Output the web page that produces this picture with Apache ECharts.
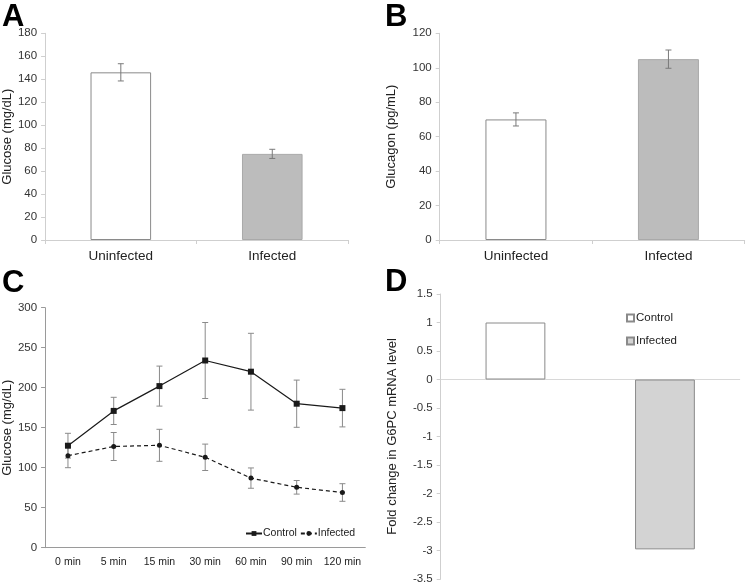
<!DOCTYPE html>
<html>
<head>
<meta charset="utf-8">
<script src="https://cdn.jsdelivr.net/npm/echarts@6/dist/echarts.min.js"></script>
<style>html,body{margin:0;padding:0;background:#fff;}#c{width:747px;height:585px;}</style>
</head>
<body>
<div id="c"></div>
<script>
// ---- data ----
const groupCats = ['Uninfected', 'Infected'];
const glucoseA = [146, 75];
const glucoseAErr = [7.5, 4];
const glucagonB = [70, 105];
const glucagonBErr = [3.8, 5.3];
const timeLabels = ['0 min', '5 min', '15 min', '30 min', '60 min', '90 min', '120 min'];
const controlC = [127.5, 171, 202, 234, 220, 180, 174.5];
const controlCErr = [15.5, 17, 25, 47.5, 48, 29.5, 23.5];
const infectedC = [115, 126.5, 128, 113, 87, 75.5, 69];
const infectedCErr = [15, 17.5, 20, 16.5, 12.7, 8.5, 11];
const foldCats = ['Control', 'Infected'];
const foldD = [1, -2.98];

const FONT = 'Liberation Sans, Arial, sans-serif';
const chart = echarts.init(document.getElementById('c'));

function errData(vals, errs) {
  return vals.map((v, i) => [i, v - errs[i], v + errs[i]]);
}
function errRender(capW, color) {
  return function (params, api) {
    const i = api.value(0);
    const lo = api.coord([i, api.value(1)]);
    const hi = api.coord([i, api.value(2)]);
    const st = { stroke: color, lineWidth: 1 };
    return {
      type: 'group',
      children: [
        { type: 'line', shape: { x1: lo[0], y1: lo[1], x2: hi[0], y2: hi[1] }, style: st },
        { type: 'line', shape: { x1: lo[0] - capW, y1: lo[1], x2: lo[0] + capW, y2: lo[1] }, style: st },
        { type: 'line', shape: { x1: hi[0] - capW, y1: hi[1], x2: hi[0] + capW, y2: hi[1] }, style: st }
      ]
    };
  };
}

const lightAxis = { show: true, lineStyle: { color: '#cfcfcf', width: 1 } };
const tickLabel = { fontFamily: FONT, fontSize: 11.5, color: '#333' };
const nameStyle = { fontFamily: FONT, fontSize: 13, color: '#222' };

function letter(txt, left, top) {
  return { text: txt, left: left, top: top, padding: 0,
    textStyle: { fontFamily: FONT, fontSize: 31, fontWeight: 'bold', color: '#000' } };
}

const option = {
  animation: false,
  backgroundColor: '#fff',
  title: [letter('A', 2, 2), letter('B', 385, 2), letter('C', 2, 268), letter('D', 385, 267)],
  grid: [
    { left: 44, top: 33.3, width: 304, height: 206.7 },
    { left: 439.7, top: 33.3, width: 305, height: 206.7 },
    { left: 43.3, top: 307.7, width: 322, height: 240 },
    { left: 440.7, top: 294, width: 299, height: 285.3 }
  ],
  legend: [
    { data: ['Control', 'Infected'], left: 240, top: 523, itemWidth: 16, itemHeight: 6, itemGap: 3,
      textStyle: { fontFamily: FONT, fontSize: 10.5, color: '#222', padding: [0, 0, 0, -4] } },
    { data: ['D-Control', 'D-Infected'], orient: 'vertical', left: 621, top: 307, itemWidth: 7, itemHeight: 7,
      itemGap: 11, icon: 'rect', formatter: n => n.replace('D-', ''),
      textStyle: { fontFamily: FONT, fontSize: 11.5, color: '#222', padding: [0, 0, 0, -3] } }
  ],
  xAxis: [
    { gridIndex: 0, type: 'category', data: groupCats, axisLine: lightAxis,
      axisTick: { show: true, length: 4, lineStyle: { color: '#cfcfcf' } },
      axisLabel: { fontFamily: FONT, fontSize: 13.5, color: '#222', margin: 9 } },
    { gridIndex: 1, type: 'category', data: groupCats, axisLine: lightAxis,
      axisTick: { show: true, length: 4, lineStyle: { color: '#cfcfcf' } },
      axisLabel: { fontFamily: FONT, fontSize: 13.5, color: '#222', margin: 9 } },
    { gridIndex: 2, type: 'category', data: timeLabels, axisLine: { show: true, lineStyle: { color: '#9a9a9a' } },
      axisTick: { show: false }, axisLabel: { interval: 0, fontFamily: FONT, fontSize: 10.5, color: '#222', margin: 9 } },
    { gridIndex: 3, type: 'category', data: foldCats, axisLine: { show: true, onZero: true, lineStyle: { color: '#d8d8d8' } },
      axisTick: { show: false }, axisLabel: { show: false } }
  ],
  yAxis: [
    { gridIndex: 0, type: 'value', min: 0, max: 180, interval: 20, axisLine: lightAxis,
      axisTick: { show: true, length: 4, lineStyle: { color: '#cfcfcf' } }, splitLine: { show: false },
      axisLabel: Object.assign({ margin: 8 }, tickLabel),
      name: 'Glucose (mg/dL)', nameLocation: 'middle', nameGap: 29, nameTextStyle: nameStyle },
    { gridIndex: 1, type: 'value', min: 0, max: 120, interval: 20, axisLine: lightAxis,
      axisTick: { show: true, length: 4, lineStyle: { color: '#cfcfcf' } }, splitLine: { show: false },
      axisLabel: Object.assign({ margin: 8 }, tickLabel),
      name: 'Glucagon (pg/mL)', nameLocation: 'middle', nameGap: 42, nameTextStyle: nameStyle },
    { gridIndex: 2, type: 'value', min: 0, max: 300, interval: 50, axisLine: { show: true, lineStyle: { color: '#9a9a9a' } },
      axisTick: { show: true, length: 4, lineStyle: { color: '#9a9a9a' } }, splitLine: { show: false },
      axisLabel: Object.assign({ margin: 8 }, tickLabel),
      name: 'Glucose (mg/dL)', nameLocation: 'middle', nameGap: 29, nameTextStyle: nameStyle },
    { gridIndex: 3, type: 'value', min: -3.5, max: 1.5, interval: 0.5, axisLine: lightAxis,
      axisTick: { show: true, length: 4, lineStyle: { color: '#cfcfcf' } }, splitLine: { show: false },
      axisLabel: Object.assign({ margin: 8 }, tickLabel),
      name: 'Fold change in G6PC mRNA level', nameLocation: 'middle', nameGap: 42, nameTextStyle: nameStyle }
  ],
  series: [
    { type: 'bar', xAxisIndex: 0, yAxisIndex: 0, barWidth: '40%',
      data: glucoseA.map((v, i) => ({ value: v, itemStyle: i === 0
        ? { color: '#fff', borderColor: '#8a8a8a', borderWidth: 1 }
        : { color: '#bcbcbc', borderColor: '#a9a9a9', borderWidth: 1 } })) },
    { type: 'custom', xAxisIndex: 0, yAxisIndex: 0, renderItem: errRender(3, '#7a7a7a'),
      data: errData(glucoseA, glucoseAErr), z: 3 },
    { type: 'bar', xAxisIndex: 1, yAxisIndex: 1, barWidth: '40%',
      data: glucagonB.map((v, i) => ({ value: v, itemStyle: i === 0
        ? { color: '#fff', borderColor: '#8a8a8a', borderWidth: 1 }
        : { color: '#bcbcbc', borderColor: '#a9a9a9', borderWidth: 1 } })) },
    { type: 'custom', xAxisIndex: 1, yAxisIndex: 1, renderItem: errRender(3, '#7a7a7a'),
      data: errData(glucagonB, glucagonBErr), z: 3 },
    { type: 'custom', xAxisIndex: 2, yAxisIndex: 2, renderItem: errRender(3, '#8a8a8a'),
      data: errData(controlC, controlCErr), z: 1 },
    { type: 'custom', xAxisIndex: 2, yAxisIndex: 2, renderItem: errRender(3, '#8a8a8a'),
      data: errData(infectedC, infectedCErr), z: 1 },
    { name: 'Control', type: 'line', xAxisIndex: 2, yAxisIndex: 2, data: controlC,
      symbol: 'rect', symbolSize: 6, lineStyle: { color: '#1a1a1a', width: 1.2 },
      itemStyle: { color: '#1a1a1a' }, z: 4 },
    { name: 'Infected', type: 'line', xAxisIndex: 2, yAxisIndex: 2, data: infectedC,
      symbol: 'circle', symbolSize: 5, lineStyle: { color: '#1a1a1a', width: 1.2, type: [4, 3] },
      itemStyle: { color: '#1a1a1a' }, z: 4 },
    { name: 'D-Control', type: 'bar', xAxisIndex: 3, yAxisIndex: 3, stack: 'd', barWidth: '40%',
      data: [foldD[0], '-'], itemStyle: { color: '#fff', borderColor: '#8a8a8a', borderWidth: 1 } },
    { name: 'D-Infected', type: 'bar', xAxisIndex: 3, yAxisIndex: 3, stack: 'd', barWidth: '40%',
      data: ['-', foldD[1]], itemStyle: { color: '#d3d3d3', borderColor: '#8a8a8a', borderWidth: 1 } }
  ]
};
chart.setOption(option);
</script>
</body>
</html>
